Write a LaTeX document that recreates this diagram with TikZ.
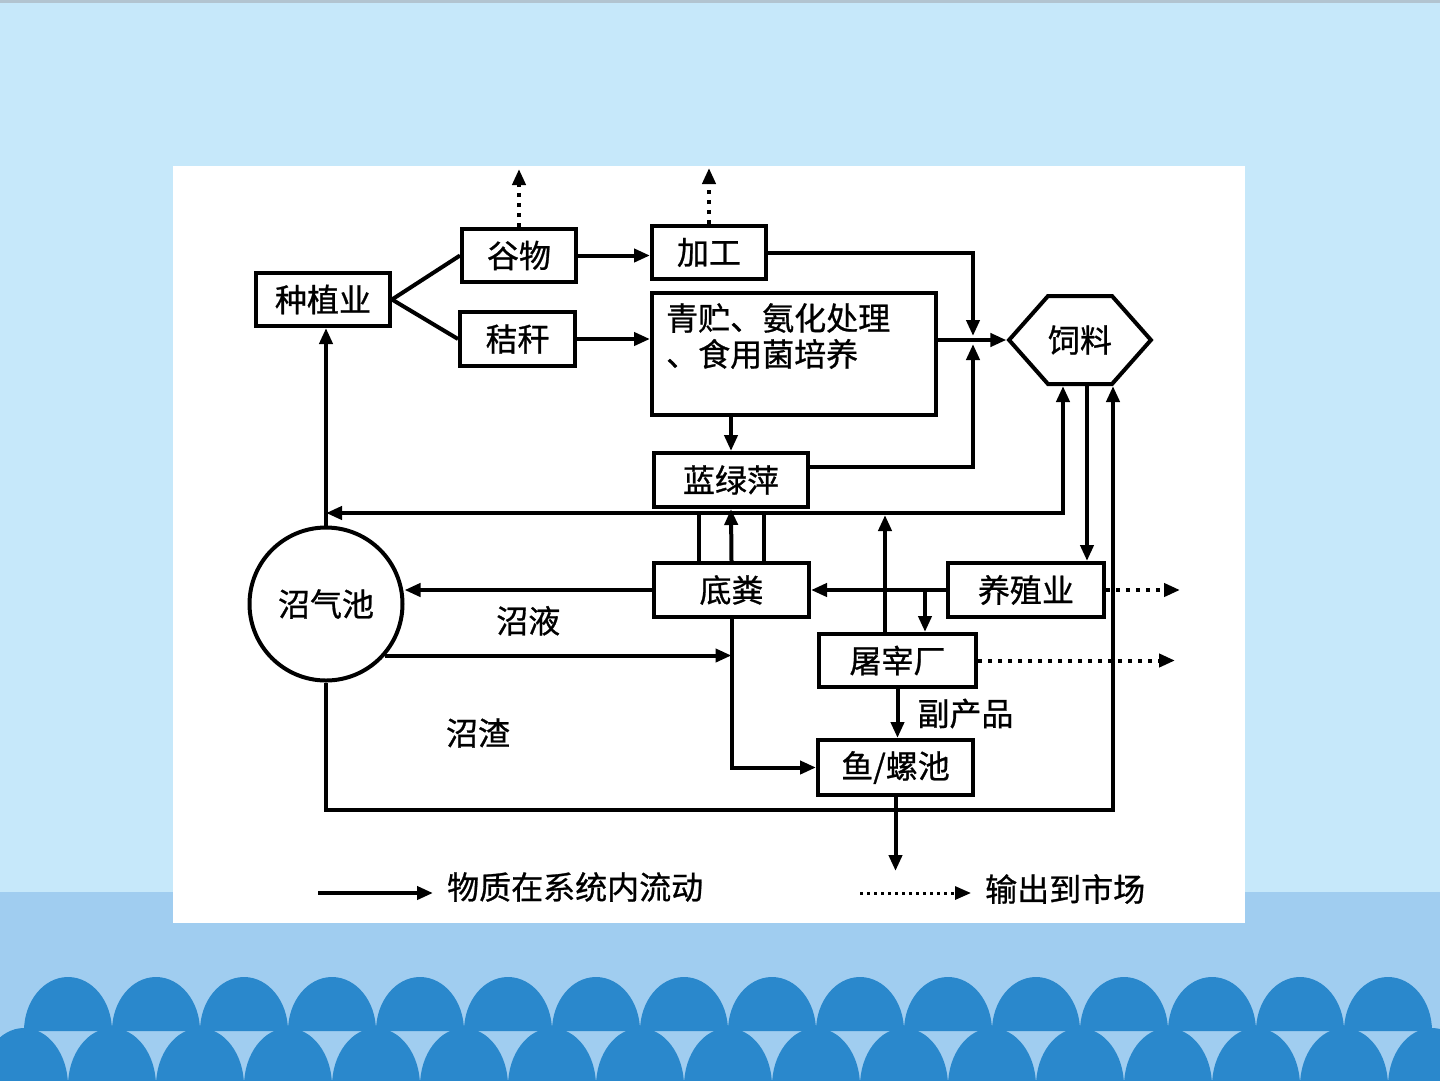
\documentclass[tikz,border=0pt]{standalone}
\usepackage{fontspec}
\newfontfamily\cjk{Noto Sans CJK SC}[FakeBold=0.8]
\usetikzlibrary{arrows.meta,positioning,calc,shapes.symbols}
\definecolor{skytop}{HTML}{C6E8FA}
\definecolor{skyband}{HTML}{A0CDF0}
\definecolor{wave}{HTML}{2A88CC}
\definecolor{rim}{HTML}{B2C4D0}

\begin{document}
\begin{tikzpicture}[
  x=1pt, y=-1pt,
  box/.style={draw, line width=4pt, fill=white, inner sep=0pt,
    font=\cjk\fontsize{32}{36}\selectfont},
  lbl/.style={inner sep=2pt, font=\cjk\fontsize{32}{36}\selectfont},
  link/.style={line width=4pt},
  flow/.style={-{Triangle[length=16pt,width=13pt]}, line width=4pt},
  sale/.style={-{Triangle[length=16pt,width=13pt]}, line width=4pt,
    dash pattern=on 4pt off 6pt}
]
\useasboundingbox (0,0) rectangle (1440,1080);
\fill[skytop] (0,0) rectangle (1440,1080);
\fill[rim] (0,0) rectangle (1440,3);
\fill[skyband] (0,892) rectangle (1440,1080);
\foreach \cx in {68,156,...,1388}
  \fill[wave] (\cx-44,1031) arc[start angle=180, end angle=0, x radius=44pt, y radius=54pt] -- cycle;
\foreach \cx in {24,112,...,1432}
  \fill[wave] (\cx-44,1086) arc[start angle=180, end angle=0, x radius=44pt, y radius=58pt] -- cycle;
\fill[white] (173,166) rectangle (1245,923);

\node[box, minimum width=134pt, minimum height=53pt] (zhongzhi) at (323,299.5) {种植业};
\node[box, minimum width=114pt, minimum height=53pt] (guwu) at (519,255.5) {谷物};
\node[box, minimum width=115pt, minimum height=54pt] (jiegan) at (517.5,339) {秸秆};
\node[box, minimum width=114pt, minimum height=53pt] (jiagong) at (709,252.5) {加工};
\node[box, minimum width=284pt, minimum height=122pt,
  label={[lbl, align=left, anchor=north west, xshift=14pt, yshift=-10pt]north west:{青贮、氨化处理\\、食用菌培养}}]
  (qingzhu) at (794,354) {};
\node[box, shape=signal, signal to=east and west, signal pointer angle=97,
  minimum width=138pt, minimum height=88pt] (feed) at (1080,340) {饲料};
\node[box, minimum width=154pt, minimum height=54pt] (lanlvping) at (731,480) {蓝绿萍};
\node[box, minimum width=155pt, minimum height=54pt] (difen) at (731.5,590) {底粪};
\node[box, minimum width=156pt, minimum height=54pt] (yangzhi) at (1026,590) {养殖业};
\node[box, minimum width=157pt, minimum height=53pt] (tuzai) at (897.5,660.5) {屠宰厂};
\node[box, minimum width=155pt, minimum height=55pt] (yuchi) at (895.5,767.5) {鱼/螺池};
\node[box, circle, minimum size=153pt] (zhaoqi) at (326,604) {沼气池};
\node[lbl] (zhaozha) at (478,733) {沼渣};

\coordinate (junc) at (973,340);
\coordinate (hub) at (885,513);
\coordinate (slag) at (1113,810);
\coordinate[above=58pt of guwu.north] (sell1);
\coordinate[above=56pt of jiagong.north] (sell2);
\coordinate[right=74pt of yangzhi.east] (sell3);
\coordinate[right=197pt of tuzai.east] (sell4);
\coordinate[below=74pt of yuchi.south] (sink);

\draw[link] (zhongzhi.east) -- (guwu.west);
\draw[link] (zhongzhi.east) -- (jiegan.west);
\draw[flow] (guwu.east) -- (guwu.east -| jiagong.west);
\draw[flow] (jiegan.east) -- (jiegan.east -| qingzhu.west);
\draw[sale] (guwu.north) -- (sell1);
\draw[sale] (jiagong.north) -- (sell2);
\draw[flow] (jiagong.east) -| ($(junc)+(0,-4)$);
\draw[flow] ([yshift=13pt]lanlvping.east) -| ($(junc)+(0,4)$);
\draw[flow] (qingzhu.east |- feed.west) -- (feed.west);
\draw[flow] (lanlvping.north |- qingzhu.south) -- (lanlvping.north);
\draw[flow] (difen.north) -- (lanlvping.south);
\draw[link] ([xshift=-33pt]difen.north) -- ([xshift=-33pt]difen.north |- hub);
\draw[link] ([xshift=32pt]difen.north) -- ([xshift=32pt]difen.north |- hub);
\draw[flow] (tuzai.north -| hub) -- ($(hub)+(0,2)$);
\draw[flow] (hub) -| ([xshift=-17pt]feed.south);
\draw[flow] (hub) -- (hub -| zhaoqi.north);
\draw[flow] (zhaoqi.north) -- (zhaoqi.north |- zhongzhi.south);
\draw[flow] ([xshift=7pt]feed.south) -- ([xshift=7pt]feed.south |- yangzhi.north);
\draw[flow] (zhaoqi.south) |- (slag) -- (slag |- feed.south);
\draw[flow] (yangzhi.west) -- (difen.east);
\draw[flow] ([xshift=-21pt]yangzhi.west) -- ([xshift=-21pt]yangzhi.west |- tuzai.north);
\draw[sale] (yangzhi.east) -- (sell3);
\draw[sale] (tuzai.east) -- (sell4);
\draw[flow] (tuzai.south) -- node[lbl, right=16pt] (fuchan) {副产品} (tuzai.south |- yuchi.north);
\draw[flow] (difen.south) |- (yuchi.west);
\draw[flow] (zhaoqi.-41) -- (zhaoqi.-41 -| difen.south);
\draw[flow] (difen.west) -- node[lbl, below=12pt] (zhaoye) {沼液} (difen.west -| zhaoqi.east);
\draw[flow] (yuchi.south) -- (sink);

\node[lbl, anchor=west] (key1) at (445,887) {物质在系统内流动};
\node[lbl, anchor=west] (key2) at (983,889) {输出到市场};
\coordinate (k1) at (318,893);
\coordinate (k2) at (860,893);
\draw[flow, shorten >=12pt] (k1) -- (k1 -| key1.west);
\draw[sale, dash pattern=on 3pt off 4pt, line width=3pt, shorten >=12pt] (k2) -- (k2 -| key2.west);
\end{tikzpicture}
\end{document}
